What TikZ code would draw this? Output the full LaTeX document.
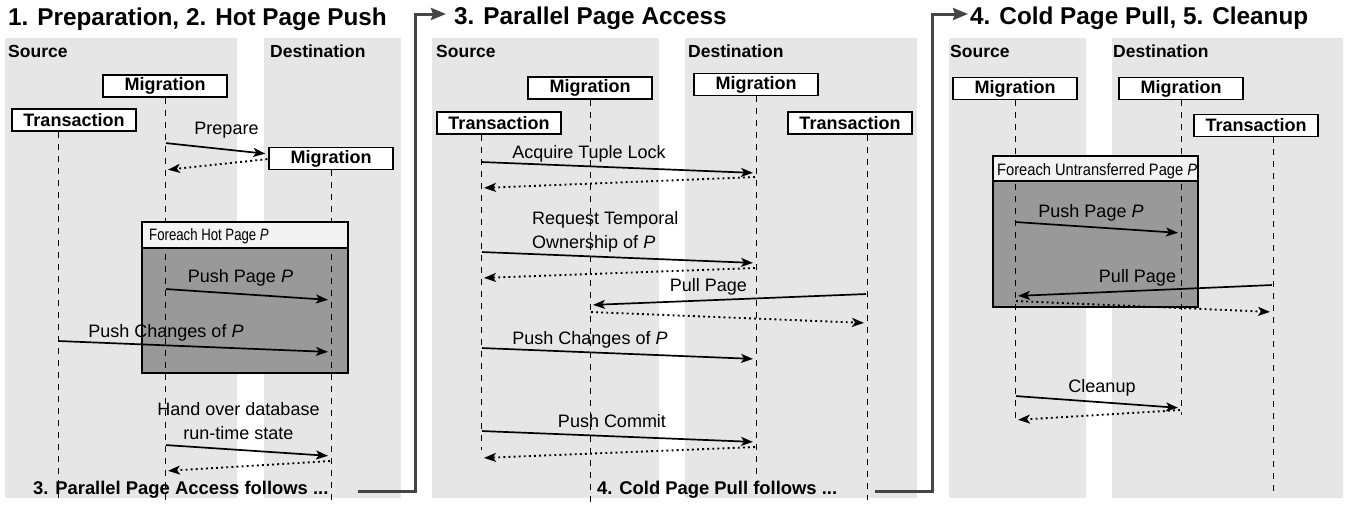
\documentclass[tikz,border=0pt]{standalone}
\usepackage{fontspec}
\setmainfont{Liberation Sans}
\newfontfamily\narrowsf[FakeStretch=0.80]{Liberation Sans}
\newfontfamily\semisf[FakeStretch=0.89]{Liberation Sans}
\usetikzlibrary{arrows.meta,positioning}
\definecolor{lane}{HTML}{E6E6E6}
\definecolor{loopbody}{HTML}{999999}
\definecolor{loophead}{HTML}{F3F3F3}
\definecolor{flow}{HTML}{454545}

\begin{document}
\begin{tikzpicture}[x=1pt,y=-1pt,
  title/.style={font=\fontsize{24.3}{28}\selectfont\bfseries,inner sep=0pt,anchor=base west},
  lanelbl/.style={font=\fontsize{17.5}{20}\selectfont\bfseries,inner sep=0pt,anchor=base west},
  actor/.style={draw,fill=white,line width=1.4pt,minimum width=124pt,minimum height=22pt,
    inner sep=0pt,font=\fontsize{18}{20}\selectfont\bfseries},
  lifeline/.style={line width=1pt,dash pattern=on 6pt off 6pt},
  push/.style={line width=1.7pt,shorten <=1pt,shorten >=3pt,
    -{Stealth[length=12pt,width=9pt,inset=3pt]}},
  reply/.style={line width=1.9pt,dash pattern=on 1.9pt off 3.2pt,shorten <=1pt,shorten >=3pt,
    -{Stealth[length=12pt,width=9pt,inset=3pt]}},
  lbl/.style={font=\fontsize{18}{24}\selectfont,inner sep=0pt,anchor=base},
  follows/.style={font=\fontsize{18.4}{21}\selectfont\bfseries,inner sep=0pt,anchor=base west},
  flowline/.style={draw=flow,line width=3pt,-{Stealth[length=15pt,width=12pt,inset=2pt]}}]
  \useasboundingbox (0,0) rectangle (1351,504);

  % Lanes
  \fill[lane] (5,38) rectangle (237,498);
  \fill[lane] (264,38) rectangle (401,498);
  \fill[lane] (432,38) rectangle (659,498);
  \fill[lane] (685,38) rectangle (917,498);
  \fill[lane] (949,38) rectangle (1086,498);
  \fill[lane] (1112,38) rectangle (1343,498);

  % Titles
  \node[title] (t1) at (8,25) {1. Preparation, 2. Hot Page Push};
  \node[title] (t2) at (454,24) {3. Parallel Page Access};
  \node[title] (t3) at (970,24) {4. Cold Page Pull, 5. Cleanup};

  \node[lanelbl] (src1) at (8,57) {Source};
  \node[lanelbl] (dst1) at (270,57) {Destination};
  \node[lanelbl] (src2) at (436,57) {Source};
  \node[lanelbl] (dst2) at (688,57) {Destination};
  \node[lanelbl] (src3) at (950,57) {Source};
  \node[lanelbl] (dst3) at (1113,57) {Destination};

  % Actors
  \node[actor] (sm1) at (165,86) {Migration};
  \node[actor] (st1) at (74,120) {Transaction};
  \node[actor] (dm1) at (331,158.5) {Migration};
  \node[actor] (sm2) at (590,88) {Migration};
  \node[actor] (st2) at (499,123) {Transaction};
  \node[actor] (dm2) at (756,84.5) {Migration};
  \node[actor] (dt2) at (850,123) {Transaction};
  \node[actor] (sm3) at (1015,88.5) {Migration};
  \node[actor] (dm3) at (1181,88.5) {Migration};
  \node[actor] (dt3) at (1256,125.5) {Transaction};
  \coordinate (st1l) at ([xshift=-16pt]st1.south);
  \coordinate (st2l) at ([xshift=-18pt]st2.south);
  \coordinate (dt2l) at ([xshift=17pt]dt2.south);
  \coordinate (dt3l) at ([xshift=17pt]dt3.south);

  % Loop bodies
  \filldraw[fill=loopbody,line width=1.4pt] (142,248) rectangle (348,373);
  \filldraw[fill=loopbody,line width=1.4pt] (993,181) rectangle (1198,307);

  % Lifelines
  \foreach \l/\yend in {sm1.south/502,st1l/500,dm1.south/500,
                        st2l/450,sm2.south/504,dm2.south/478,dt2l/500,
                        sm3.south/420,dm3.south/415,dt3l/492}
    \draw[lifeline] (\l) -- (\l |- 0,\yend);

  % Loop headers
  \filldraw[fill=loophead,line width=1.4pt] (142,222) rectangle (348,248);
  \node[inner sep=0pt,anchor=base west,font=\fontsize{16.5}{18}\narrowsf] (hot) at (149,240)
    {Foreach Hot Page \textit{P}};
  \filldraw[fill=loophead,line width=1.4pt] (993,156) rectangle (1198,181);
  \node[inner sep=0pt,anchor=base west,font=\fontsize{16.5}{18}\semisf] (cold) at (997,175)
    {Foreach Untransferred Page \textit{P}};

  % 1. Preparation, 2. Hot Page Push
  \draw[push] (sm1.south |- 0,143) -- (dm1.west |- 0,154);
  \draw[reply] (dm1.west |- 0,159) -- (sm1.south |- 0,170);
  \draw[push] (sm1.south |- 0,289) -- (dm1.south |- 0,300);
  \draw[push] (st1l |- 0,341) -- (dm1.south |- 0,352);
  \draw[push] (sm1.south |- 0,445) -- (dm1.south |- 0,456);
  \draw[reply] (dm1.south |- 0,461) -- (sm1.south |- 0,471);
  \node[lbl] (prep) at (226.5,134) {Prepare};
  \node[lbl] (pp1) at (240.5,282) {Push Page \textit{P}};
  \node[lbl] (pc1) at (166,337) {Push Changes of \textit{P}};
  \node[lbl,anchor=north,align=center] (hand) at (238.5,402) {Hand over database\\run-time state};
  \node[follows] (f1) at (33,494) {3. Parallel Page Access follows ...};

  % 3. Parallel Page Access
  \draw[push] (st2l |- 0,162) -- (dm2.south |- 0,173);
  \draw[reply] (dm2.south |- 0,177) -- (st2l |- 0,188);
  \draw[push] (st2l |- 0,252) -- (dm2.south |- 0,263);
  \draw[reply] (dm2.south |- 0,268) -- (st2l |- 0,278);
  \draw[push] (dt2l |- 0,294) -- (sm2.south |- 0,305);
  \draw[reply] (sm2.south |- 0,312) -- (dt2l |- 0,323);
  \draw[push] (st2l |- 0,348) -- (dm2.south |- 0,359);
  \draw[push] (st2l |- 0,431) -- (dm2.south |- 0,442);
  \draw[reply] (dm2.south |- 0,447) -- (st2l |- 0,458);
  \node[lbl] (lock) at (589,158) {Acquire Tuple Lock};
  \node[lbl,anchor=north west,align=left] (own) at (532,211) {Request Temporal\\Ownership of \textit{P}};
  \node[lbl] (pull2) at (708.5,291) {Pull Page};
  \node[lbl] (pc2) at (590,344) {Push Changes of \textit{P}};
  \node[lbl] (commit) at (612,427) {Push Commit};
  \node[follows] (f2) at (597,494) {4. Cold Page Pull follows ...};

  % 4. Cold Page Pull, 5. Cleanup
  \draw[push] (sm3.south |- 0,222) -- (dm3.south |- 0,233);
  \draw[push] (dt3l |- 0,285) -- (sm3.south |- 0,296);
  \draw[reply] (sm3.south |- 0,301) -- (dt3l |- 0,312);
  \draw[push] (sm3.south |- 0,396) -- (dm3.south |- 0,408);
  \draw[reply] (dm3.south |- 0,410) -- (sm3.south |- 0,420);
  \node[lbl] (pp3) at (1091,217) {Push Page \textit{P}};
  \node[lbl] (pull3) at (1137.5,282) {Pull Page};
  \node[lbl] (clean) at (1102,392) {Cleanup};

  % Flow between phases
  \draw[flowline] ([xshift=29pt]f1.east |- 0,491) -| (415,14) -- ([xshift=-8pt]t2.west |- 0,14);
  \draw[flowline] ([xshift=38pt]f2.east |- 0,491) -| (932,14) -- ([xshift=-2pt]t3.west |- 0,14);
\end{tikzpicture}
\end{document}
